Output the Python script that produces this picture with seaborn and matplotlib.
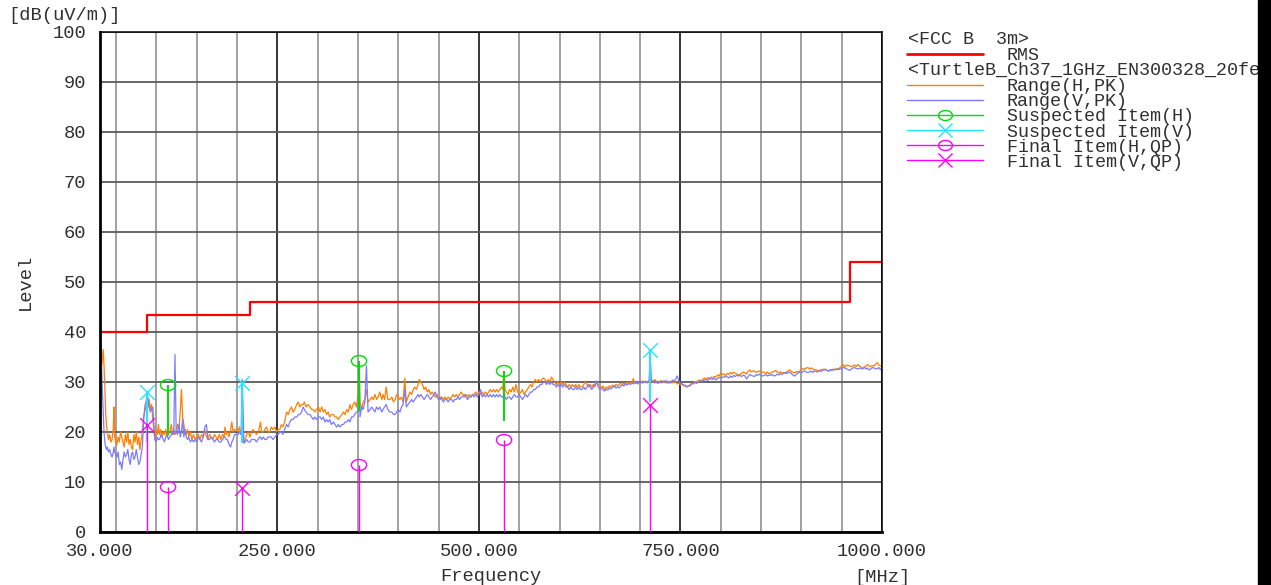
import numpy as np
import pandas as pd
import seaborn as sns
import matplotlib.pyplot as plt
from matplotlib.path import Path
from matplotlib.patches import Rectangle

# sweep points [MHz], shared by both peak traces
freq = [
    30, 31, 32, 33, 34, 35, 36, 37, 38, 39,
    40.5, 42, 43.5, 45, 46.5, 47.3, 48.2, 49.5, 51, 52.5,
    54, 55.5, 57, 58.5, 60, 61.5, 63, 64.5, 66, 67.5,
    69, 70.5, 72, 73.5, 75, 76.5, 78, 79.5, 81, 82.5,
    84, 85.5, 87, 88.5, 90, 91, 92.5, 94, 95.5, 97,
    98, 99.5, 101, 102.5, 104, 105.5, 107, 108.5, 110, 111.5,
    113, 115, 116.5, 118.5, 120, 121.5, 123, 124.5, 126, 128,
    129.5, 131, 132.5, 134, 135.5, 137, 138.5, 140, 142, 144,
    146, 148, 150, 152, 154, 156, 158, 160, 162, 164,
    166, 168, 170, 172, 174, 176, 178, 180, 182, 184,
    185, 186.5, 188, 190, 192, 193.5, 195, 197, 199, 201,
    203, 205, 206.5, 208.5, 210, 212, 214, 216, 218, 220,
    222, 224, 226, 228, 229, 230.5, 232.5, 234.5, 236.5, 238.5,
    240.5, 242.5, 244.5, 247, 249, 251, 253, 255, 257, 259,
    261.5, 263.5, 265.5, 267.5, 269.5, 271.5, 274, 276, 278, 280,
    282, 283.5, 285.5, 288, 290.5, 292.5, 294.5, 296.5, 298.5, 301,
    303, 305, 307, 309, 311, 313, 315, 317, 319.5, 321.5,
    323.5, 325.5, 327.5, 330, 332, 334, 336, 338, 340, 342,
    344, 346, 348, 350, 351.5, 352.5, 354.5, 356.5, 358.5, 360.5,
    362.5, 365, 367, 369, 371, 373, 375, 377, 379.5, 381,
    383, 385, 387, 389.5, 392, 394, 396, 398, 400, 402,
    404, 406, 408, 410, 412, 414.5, 416.5, 418.5, 420.5, 422.5,
    424.5, 426, 428, 430, 432, 434, 436, 438, 440, 442,
    444, 446, 448, 450, 452, 454, 456, 458, 460, 462,
    464, 466, 468, 470, 472, 474, 476, 478, 480, 482,
    484, 486, 488, 490, 492, 494, 496, 498, 500, 502,
    504, 506, 508, 510, 512, 514, 516, 518, 520, 522,
    524, 526, 528, 529.5, 531, 532.5, 534, 536, 538, 540,
    542, 544, 546, 548, 550, 552, 554, 556, 558, 560,
    562, 564, 566, 568, 570, 572, 574, 576, 578, 580,
    582, 584, 586, 588, 590, 592, 594, 596, 598, 600,
    602, 604, 606, 608, 610, 612, 614, 616, 618, 620,
    622, 624, 626, 628, 630, 632, 634, 636, 638, 640,
    642, 644, 646, 648, 650, 652, 654, 656, 658, 660,
    662, 664, 666, 668, 670, 672, 674, 676, 678, 680,
    682, 684, 686, 688, 690, 691.6, 693, 695, 697, 699,
    701, 703, 705, 707, 709, 711, 712.5, 714, 716, 718,
    720, 722, 724, 726, 728, 730, 732, 734, 736, 738,
    740, 742, 744, 746, 748, 750, 752, 754, 756, 758,
    760, 762, 764, 766, 768, 770, 772, 774, 776, 778,
    780, 782, 784, 786, 788, 790, 792, 794, 796, 798,
    800, 802, 804, 806, 808, 810, 812, 814, 816, 818,
    820, 822, 824, 826, 828, 830, 832, 834, 836, 838,
    840, 842, 844, 846, 848, 850, 852, 854, 856, 858,
    860, 862, 864, 866, 868, 870, 872, 874, 876, 878,
    880, 882, 884, 886, 888, 890, 892, 894, 896, 898,
    900, 902, 904, 906, 908, 910, 912, 914, 916, 918,
    920, 922, 924, 926, 928, 930, 932, 934, 936, 938,
    940, 942, 944, 946, 948, 950, 952, 954, 956, 958,
    960, 962, 964, 966, 968, 970, 972, 974, 976, 978,
    980, 982, 984, 986, 988, 990, 992, 994, 996, 998,
    1000,
]

# Range(H,PK)  [dB(uV/m)]
level_h = [
    35.5, 36.5, 33.5, 34.5, 36.5, 33, 29, 24, 21.5, 20,
    18.5, 19.5, 18, 18.5, 21, 25, 19, 18, 17.5, 19,
    18, 20, 19, 18, 17, 19.5, 18, 20, 17.5, 18.5,
    17, 16.5, 19.5, 18, 20, 17.5, 19, 16.5, 18.5, 20,
    23, 24, 25, 26.5, 25, 26.5, 24.5, 25.5, 22.5, 20,
    18.5, 20.5, 19.5, 21.5, 19.5, 20.5, 19, 20, 19.5, 20.5,
    19, 19.5, 20, 21.5, 19.5, 20.5, 19.5, 20, 21.5, 20.5,
    24, 28.5, 23, 21.5, 20, 19.5, 20.5, 19, 20, 18.5,
    19.5, 18.5, 19, 19.5, 18.5, 19.5, 19, 20.5, 19, 18.5,
    19.5, 19, 18.5, 19.5, 19, 18.5, 19.5, 18.5, 19.5, 19,
    21, 19.5, 20, 19, 20.5, 22, 20, 20.5, 20.5, 20,
    21, 19.5, 20, 17.8, 18.5, 19.5, 20, 19, 20, 20.5,
    20, 19.5, 20, 21, 22, 20, 20, 20.5, 21, 20,
    20, 21, 20.5, 21, 20, 20.5, 20.5, 21.5, 21, 22,
    24, 23.5, 24.5, 25, 24, 24.5, 25.5, 26, 25, 25.5,
    25.5, 26, 25, 25.5, 25, 24.5, 24.5, 24, 24.5, 25,
    24, 25, 24, 24.5, 23.5, 24, 23, 23.5, 23.5, 23,
    23, 22.5, 23, 23.5, 24, 23.5, 24.5, 24, 25.5, 24.5,
    25.5, 26, 25, 27, 33.5, 26, 24.5, 26, 26.5, 28.5,
    26, 26.5, 27, 26.5, 27.5, 26.5, 27, 28, 26.5, 27.5,
    26.5, 29, 26.5, 26.5, 27, 26, 26.5, 27.5, 27, 26.5,
    27, 26, 30.8, 26, 27, 28, 27.5, 28.5, 29, 28.5,
    29.5, 30.5, 30, 29.5, 28.5, 29, 28, 28.5, 27.5, 28,
    27.5, 27, 27.5, 27, 26.5, 27, 26.5, 27, 26.5, 27,
    26.5, 27, 27.5, 27, 27.5, 27, 27.5, 28, 27.5, 27,
    27.5, 27, 27.5, 27, 27.5, 27.5, 28, 27.5, 28, 27.5,
    28, 27.5, 28, 27.5, 28, 28.5, 28, 28.5, 28, 28.5,
    28, 28.5, 29, 28.5, 32, 28.5, 28, 27.5, 28.5, 28,
    29, 28, 29.5, 28, 27.5, 28, 28.5, 27.5, 28, 28.5,
    29, 29.5, 29, 30, 30.5, 30, 30.5, 30, 30.5, 30.8,
    30.5, 30, 30.5, 30, 31, 30.5, 30, 29.5, 30, 29.5,
    30, 29.5, 30, 29.5, 29, 29.5, 29, 29.5, 29, 29.5,
    29, 29.5, 29, 29, 29.5, 30, 29.5, 29, 29.5, 29,
    29.5, 29, 30, 29.5, 29.2, 28.8, 29.2, 28.5, 29, 28.8,
    29.2, 29, 29.4, 29, 29.5, 29.2, 29.5, 29.8, 29.4, 29.8,
    29.5, 30, 29.6, 30, 29.8, 30.7, 29.8, 30, 29.6, 30,
    29.8, 30.2, 30, 30.2, 29.8, 30, 31, 30.2, 30, 30.5,
    30.2, 29.8, 30, 30.3, 30, 30.2, 29.8, 30, 29.8, 30.2,
    29.8, 30.2, 30, 29.6, 29.8, 29.4, 29.6, 29.2, 29.4, 29,
    29.3, 29.2, 29.6, 29.8, 30.1, 30, 30.3, 30.4, 30.2, 30.6,
    30.8, 30.5, 30.9, 30.7, 31, 30.8, 31.1, 31, 31.4, 31.2,
    31.8, 31.5, 31.6, 31.3, 31.7, 31.5, 31.9, 31.6, 32, 31.7,
    31.6, 31.4, 31.5, 31.8, 32, 31.8, 31.6, 32.2, 32.4, 32,
    32.2, 32.2, 31.9, 32.1, 32.2, 31.9, 32, 31.9, 31.7, 32,
    31.6, 31.8, 32, 32.1, 32.3, 32, 31.9, 32, 31.8, 31.9,
    31.7, 32, 32.3, 32.4, 32, 31.9, 31.9, 32.1, 32, 32.2,
    32.4, 32.7, 32.5, 32.8, 32.9, 32.6, 32.8, 32.7, 32.4, 32.5,
    32.3, 32.2, 32.5, 32.4, 32.6, 32.5, 32.3, 32.2, 32.5, 32.4,
    32.6, 32.5, 32.7, 32.6, 32.9, 33.2, 33.5, 33, 33.4, 33.3,
    33.2, 33.1, 33.2, 33.4, 33.1, 33.5, 33.2, 33, 32.7, 32.9,
    33.2, 33.5, 33.2, 33.1, 33.3, 33.2, 33.5, 33.9, 33.4, 33.2,
    33.3,
]

# Range(V,PK)  [dB(uV/m)]
level_v = [
    38.5, 37, 33, 28, 24, 20, 18, 17, 16.5, 17,
    16, 16.5, 15.5, 15, 16, 17, 16, 15.5, 15, 16,
    13.5, 14, 12.5, 14.5, 16, 15, 15.5, 16.5, 14.5, 13.5,
    15.5, 16, 14.5, 15, 16.5, 15, 13.5, 14, 15.5, 17,
    22, 25, 26, 27.5, 26.5, 25, 24, 24.5, 25, 21,
    18.5, 18, 19, 18.5, 18.5, 19.5, 19, 18.5, 18, 19,
    19.5, 18.5, 19, 19.5, 20, 19.5, 35.5, 20, 19.5, 21.5,
    19, 20, 22.5, 19, 20.5, 19, 18.5, 19, 18, 18.5,
    18, 18.5, 18, 19, 18.5, 18, 19, 21, 21.5, 18.5,
    18.5, 19, 18.5, 18, 18.5, 18.5, 18, 18, 18.5, 19,
    19, 18.5, 18.5, 17.5, 17, 18, 18.5, 19.5, 19.5, 19.5,
    20, 19.5, 30.5, 17.8, 18, 18.5, 18, 18, 18.5, 18.5,
    18.5, 18, 18.5, 19, 19, 18.5, 19, 18.5, 18.5, 19,
    19, 19, 18.5, 19, 19.5, 19.5, 20, 20, 19.5, 20.5,
    21.5, 21, 22, 22.5, 22.5, 23, 23, 23.5, 23.5, 24,
    25, 24.5, 24, 23.5, 23.5, 23, 22.5, 23, 22.5, 23,
    23, 22.5, 23, 22, 22.5, 22, 22.5, 21.5, 22, 21.5,
    21, 21.5, 21, 21.5, 21.5, 22, 22, 22.5, 22, 23,
    23, 23.5, 24, 24, 33, 23, 25, 24.5, 26, 33.3,
    24, 24.5, 25, 24.5, 24, 25, 24.5, 25, 24, 24.5,
    25, 25.5, 24.5, 24, 24, 23.5, 23.5, 24, 24.5, 24,
    25, 25.5, 28.5, 25, 25.5, 26, 26.5, 26, 26.5, 27,
    27.5, 27, 27.5, 27, 26.5, 27, 27.5, 27, 26.5, 27,
    27.5, 28, 27, 26.5, 27, 26.5, 26, 26.5, 26.5, 26,
    26.5, 26.5, 26, 26.5, 26.5, 27, 26.5, 27, 27, 27.5,
    27, 26.5, 27, 27, 27.5, 27, 27.5, 27, 27.5, 28.5,
    27, 27.5, 27, 27.5, 27, 27.5, 27, 27.5, 27, 27.5,
    27, 27.5, 27, 27, 27.5, 27, 26.5, 27, 27, 26.5,
    27, 27.5, 27, 27, 27.5, 27, 26.5, 27, 27.5, 27,
    27.5, 28, 28, 28.5, 28.5, 29, 29, 29.5, 29.5, 30,
    30, 29.5, 30, 29.5, 30, 29.5, 29.5, 29, 29.5, 29,
    29.5, 29, 29.5, 29, 29, 28.5, 29, 28.5, 28.5, 29,
    28.5, 29, 28.5, 28.5, 29, 28.5, 29, 29.5, 29, 28.5,
    29, 29.5, 30.2, 29, 28.5, 28.8, 28.4, 28.2, 28.6, 28.4,
    28.8, 28.6, 29, 29.2, 28.8, 29, 28.8, 29.2, 29.4, 29.2,
    29.6, 29.4, 29.8, 29.5, 29.8, 29.6, 30, 29.7, 30, 29.8,
    30, 29.8, 30.1, 29.9, 30, 30.2, 35, 30.4, 30.2, 29.8,
    30, 29.7, 30.1, 29.8, 30.2, 30, 30.3, 29.8, 30, 29.8,
    30.4, 30.2, 30.6, 31.2, 30.2, 29.8, 29.6, 29.4, 29.2, 29,
    29.2, 29.4, 29.8, 29.6, 29.9, 29.7, 30, 30.2, 30.1, 30.3,
    30.4, 30.5, 30.3, 30.7, 30.6, 30.5, 30.8, 30.4, 30.7, 30.9,
    30.8, 31, 30.9, 31.2, 31, 30.8, 31.2, 30.9, 31.3, 31.1,
    31.4, 31.2, 31.3, 31.1, 31.4, 31.2, 30.6, 31.1, 31.5, 31.3,
    31.2, 31.1, 31.5, 31.3, 31.6, 31.4, 31.2, 31.3, 31.5, 31.2,
    31.4, 31.3, 31.5, 31.2, 31.3, 31.6, 31.4, 31.7, 31.5, 31.8,
    31.9, 31.7, 32, 31.9, 31.6, 31.3, 31.2, 31.6, 31.8, 32,
    31.8, 32.1, 32.2, 32, 31.9, 32, 32.2, 31.9, 32.2, 32.1,
    32, 32.2, 32.1, 32.3, 32.4, 32.5, 32.3, 32.2, 32.4, 32.3,
    32.5, 32.4, 32.6, 32.5, 32.6, 32.7, 32.9, 32.8, 32.6, 32.5,
    32.3, 32.6, 32.8, 32.9, 32.7, 32.6, 32.7, 32.8, 32.6, 33,
    32.6, 32.8, 32.4, 32.6, 32.9, 32.8, 32.7, 32.6, 32.9, 32.5,
    32.8,
]

# FCC B 3m limit (RMS)
limit_freq = [30, 88, 216, 960, 1000]
limit_level = [40, 43.5, 46, 54, 54]

# suspected items: marker level and foot of their drop line
susp_h_freq = [114.4, 351.3, 531.2]
susp_h_level = [29.4, 34.2, 32.2]
susp_h_low = [19.5, 24.2, 22.2]
susp_v_freq = [88.3, 206.2, 712.4]
susp_v_level = [28.0, 29.8, 36.4]
susp_v_low = [18.0, 17.8, 26.0]

# final QP items
final_h_freq = [114.4, 351.3, 531.2]
final_h_level = [9.0, 13.4, 18.4]
final_v_freq = [88.3, 206.2, 712.4]
final_v_level = [21.4, 8.8, 25.4]

x_ticks = [30, 250, 500, 750, 1000]
y_ticks = [0, 10, 20, 30, 40, 50, 60, 70, 80, 90, 100]

ORANGE = "#ff7f00"
BLUE = "#7b7bff"
RED = "#ff0000"
GREEN = "#00dd00"
CYAN = "#22e6ff"
MAGENTA = "#ff00ff"
TXT = "#303030"

sns.set_theme(style="white")
plt.rcParams["font.family"] = ["Liberation Mono", "DejaVu Sans Mono"]

W, H = 1271, 585
fig = plt.figure(figsize=(W / 100, H / 100), dpi=100)
ax = fig.add_axes([100 / W, 53 / H, 782 / W, 500 / H])

traces = pd.DataFrame({
    "Frequency": freq + freq,
    "Level": level_h + level_v,
    "Range": ["Range(H,PK)"] * len(freq) + ["Range(V,PK)"] * len(freq),
})
sns.lineplot(data=traces, x="Frequency", y="Level", hue="Range",
             palette={"Range(H,PK)": ORANGE, "Range(V,PK)": BLUE},
             estimator=None, lw=0.9, legend=False, ax=ax)

sns.lineplot(x=limit_freq, y=limit_level, color=RED, lw=1.6,
             drawstyle="steps-post", ax=ax)

# drop lines
ax.vlines(susp_h_freq, susp_h_low, susp_h_level, colors=GREEN, lw=1.4, zorder=3)
ax.vlines(susp_v_freq, susp_v_low, susp_v_level, colors=CYAN, lw=1.4, zorder=3)
ax.vlines(final_h_freq, 0, final_h_level, colors=MAGENTA, lw=1.0, zorder=3)
ax.vlines(final_v_freq, 0, final_v_level, colors=MAGENTA, lw=1.0, zorder=3)

circ = Path.unit_circle()
ellipse = Path(circ.vertices * np.array([1.0, 0.72]), circ.codes)

sns.scatterplot(x=susp_h_freq, y=susp_h_level, marker=ellipse, s=120,
                facecolor="none", edgecolor=GREEN, linewidth=1.0, zorder=4, ax=ax)
sns.scatterplot(x=susp_v_freq, y=susp_v_level, marker="x", s=110,
                color=CYAN, linewidth=1.0, zorder=4, ax=ax)
sns.scatterplot(x=final_h_freq, y=final_h_level, marker=ellipse, s=120,
                facecolor="none", edgecolor=MAGENTA, linewidth=1.0, zorder=4, ax=ax)
sns.scatterplot(x=final_v_freq, y=final_v_level, marker="x", s=110,
                color=MAGENTA, linewidth=1.0, zorder=4, ax=ax)

ax.set_xlim(30, 1000)
ax.set_ylim(0, 100)
ax.set_xticks(x_ticks)
ax.set_xticklabels([f"{t:.3f}" for t in x_ticks])
ax.set_xticks(np.arange(50, 1000, 50), minor=True)
ax.set_yticks(y_ticks)
ax.set_yticklabels([str(t) for t in y_ticks])
ax.set_yticks(np.arange(0, 101, 2), minor=True)

ax.tick_params(axis="x", which="both", length=0, pad=8, labelsize=13.5, labelcolor=TXT)
ax.tick_params(axis="y", which="major", length=0, pad=10, labelsize=13.5, labelcolor=TXT)
ax.tick_params(axis="y", which="minor", direction="in", length=4.5, width=1, color="#333333")

ax.set_axisbelow(True)
ax.grid(True, which="major", axis="x", color="black", lw=1.1)
ax.grid(True, which="minor", axis="x", color="#9a9a9a", lw=1.3)
ax.grid(True, which="major", axis="y", color="#5a5a5a", lw=1.3)

for side, lw in [("left", 2.0), ("bottom", 2.0), ("top", 1.1), ("right", 1.1)]:
    ax.spines[side].set_visible(True)
    ax.spines[side].set_color("black")
    ax.spines[side].set_linewidth(lw)

ax.set_xlabel("Frequency", fontsize=13.5, color=TXT)
ax.set_ylabel("Level", fontsize=13.5, color=TXT)
ax.xaxis.set_label_coords(0.5, -0.072)
ax.yaxis.set_label_coords(-0.085, 0.5)

# overlay in pixel units for units and legend block
lax = fig.add_axes([0, 0, 1, 1])
lax.set_xlim(0, W)
lax.set_ylim(H, 0)
lax.axis("off")

lax.text(8, 15, "[dB(uV/m)]", fontsize=13.5, color=TXT, va="center", ha="left")
lax.text(882, 577, "[MHz]", fontsize=13.5, color=TXT, va="center", ha="center")

fs = 13.2
lax.text(908, 39, "<FCC B  3m>", fontsize=fs, color=TXT, va="center")
lax.plot([907, 983], [54.3, 54.3], color=RED, lw=2)
lax.text(1007, 55, "RMS", fontsize=fs, color=TXT, va="center")
lax.text(908, 70.5, "<TurtleB_Ch37_1GHz_EN300328_20fe", fontsize=fs, color=TXT, va="center")

rows = [
    ("Range(H,PK)", ORANGE, None, 84.5),
    ("Range(V,PK)", BLUE, None, 99.7),
    ("Suspected Item(H)", GREEN, ellipse, 114.5),
    ("Suspected Item(V)", CYAN, "x", 130),
    ("Final Item(H,QP)", MAGENTA, ellipse, 145),
    ("Final Item(V,QP)", MAGENTA, "x", 160),
]
for label, col, mk, y in rows:
    lax.plot([907, 983], [y, y], color=col, lw=1.0)
    if mk is not None:
        lax.plot([945], [y], marker=mk, ms=10, mfc="none", mec=col, mew=1.0)
    lax.text(1007, y + 2.3, label, fontsize=fs, color=TXT, va="center")

lax.add_patch(Rectangle((1258, 0), W - 1258, H, color="black", zorder=5))

fig.savefig("out.png", dpi=100)
